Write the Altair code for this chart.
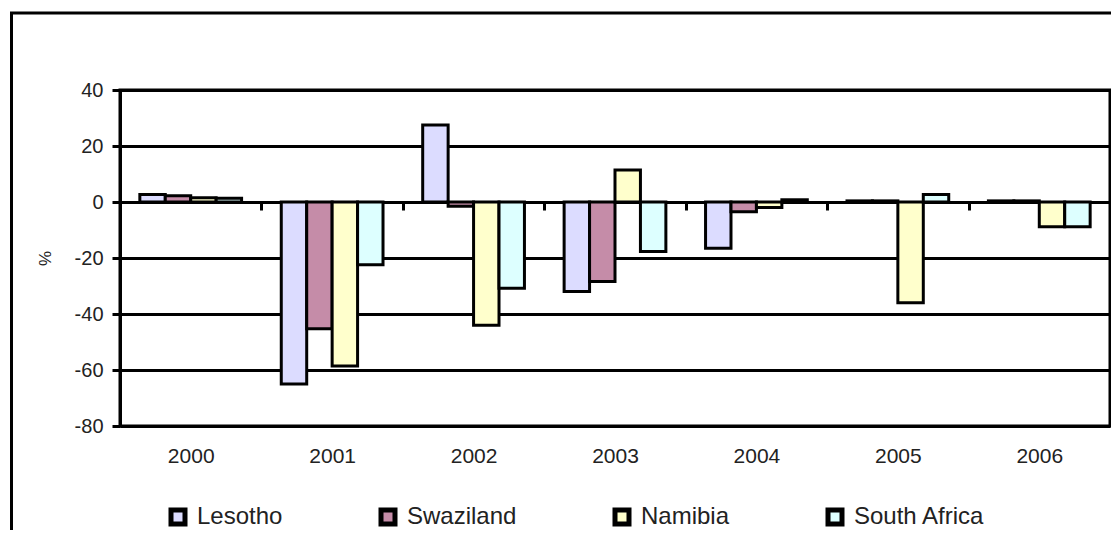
import altair as alt
import pandas as pd

years = ["2000", "2001", "2002", "2003", "2004", "2005", "2006"]
countries = ["Lesotho", "Swaziland", "Namibia", "South Africa"]
lesotho = [2.7, -65.0, 27.5, -32.0, -16.5, 0.4, 0.4]
swaziland = [2.2, -45.3, -1.5, -28.4, -3.5, 0.4, 0.4]
namibia = [1.5, -58.6, -44.0, 11.4, -2.0, -36.0, -8.8]
south_africa = [1.3, -22.4, -30.8, -17.7, 0.8, 2.7, -8.8]
fills = ["#DCDCFF", "#C58CA8", "#FFFFCC", "#DDFFFF"]
y_ticks = [-80, -60, -40, -20, 0, 20, 40]

rows = []
for c, vals in zip(countries, [lesotho, swaziland, namibia, south_africa]):
    for yr, v in zip(years, vals):
        rows.append({"year": yr, "country": c, "value": v})
df = pd.DataFrame(rows)

FONT = "Liberation Sans"

bars = alt.Chart(df).mark_bar(stroke="black", strokeWidth=3).encode(
    x=alt.X(
        "year:N", sort=years,
        scale=alt.Scale(paddingInner=0, paddingOuter=0),
        axis=alt.Axis(
            title=None, orient="bottom", offset=-224, tickBand="extent",
            tickSize=8, tickWidth=3, tickColor="black",
            domain=True, domainColor="black", domainWidth=3,
            labelPadding=235, labelFontSize=21, labelFont=FONT,
            labelColor="#222222", labelAngle=0, grid=False,
        ),
    ),
    xOffset=alt.XOffset(
        "country:N", sort=countries,
        scale=alt.Scale(paddingInner=0, paddingOuter=0.78),
    ),
    y=alt.Y(
        "value:Q",
        scale=alt.Scale(domain=[-80, 40], nice=False, zero=False),
        axis=alt.Axis(
            values=y_ticks, labelExpr="'' + datum.value",
            labelFontSize=20, labelFont=FONT, labelColor="#222222", labelPadding=9,
            tickSize=8, tickWidth=3, tickColor="black",
            domainColor="black", domainWidth=3,
            grid=True, gridColor="black", gridWidth=3, gridOpacity=1,
            title="%", titleFont=FONT, titleFontSize=17, titleFontWeight="normal",
            titleColor="#222222", titleX=-75, titleY=168, titleAngle=270,
            titleAlign="center", titleBaseline="middle",
        ),
    ),
    fill=alt.Fill(
        "country:N", sort=countries,
        scale=alt.Scale(domain=countries, range=fills),
        legend=alt.Legend(
            title=None, orient="none", legendX=46, legendY=415,
            direction="horizontal", symbolType="square", symbolSize=196,
            symbolStrokeColor="black", symbolStrokeWidth=5,
            labelFont=FONT, labelFontSize=24, labelColor="#222222",
            labelOffset=7, columnPadding=88, padding=0,
        ),
    ),
)

frame = alt.Chart(pd.DataFrame({"k": [0]})).mark_rect(
    filled=False, stroke="black", strokeWidth=3
).encode(
    x=alt.value(-108.5), x2=alt.value(1100),
    y=alt.value(-77), y2=alt.value(700),
)

chart = alt.layer(frame, bars).properties(
    width=990, height=336,
    autosize=alt.AutoSizeParams(type="none"),
    padding={"left": 112, "top": 82, "right": 1, "bottom": 104},
    background="white",
).configure_view(stroke="black", strokeWidth=3)

chart.save("out.html", embed_options={"renderer": "svg", "actions": False})
